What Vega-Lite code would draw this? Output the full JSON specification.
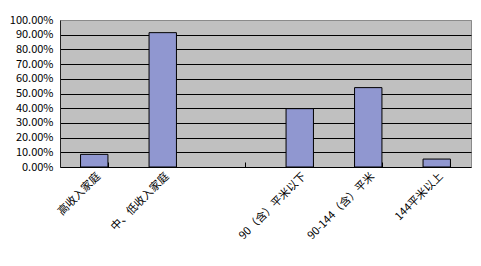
{
  "$schema": "https://vega.github.io/schema/vega-lite/v6.json",
  "autosize": "none",
  "width": 411,
  "height": 147,
  "padding": {"left": 60, "top": 20, "right": 10, "bottom": 99},
  "background": "white",
  "config": {
    "font": "Noto Sans CJK SC",
    "view": {"fill": "#c0c0c0", "stroke": "#8a8a8a", "strokeWidth": 1}
  },
  "data": {
    "values": [
      {"cat": "高收入家庭", "value": 0.086},
      {"cat": "中、低收入家庭", "value": 0.914},
      {"cat": " ", "value": null},
      {"cat": "90（含）平米以下", "value": 0.397},
      {"cat": "90-144（含）平米", "value": 0.54},
      {"cat": "144平米以上", "value": 0.054}
    ]
  },
  "mark": {"type": "bar", "fill": "#9097d0", "stroke": "#000000", "strokeWidth": 1},
  "encoding": {
    "x": {
      "field": "cat",
      "type": "nominal",
      "sort": null,
      "scale": {
        "domain": ["高收入家庭", "中、低收入家庭", " ", "90（含）平米以下", "90-144（含）平米", "144平米以上"],
        "paddingInner": 0.6,
        "paddingOuter": 0.3
      },
      "axis": {
        "title": null,
        "labelAngle": -45,
        "labelFontSize": 11,
        "labelColor": "#000000",
        "labelPadding": 8,
        "tickBand": "extent",
        "tickColor": "#000000",
        "tickSize": -5,
        "domainColor": "#000000",
        "grid": false
      }
    },
    "y": {
      "field": "value",
      "type": "quantitative",
      "scale": {"domain": [0, 1], "nice": false},
      "axis": {
        "title": null,
        "format": ".2%",
        "values": [0, 0.1, 0.2, 0.3, 0.4, 0.5, 0.6, 0.7, 0.8, 0.9, 1],
        "labelFontSize": 11,
        "labelColor": "#000000",
        "labelPadding": 7,
        "tickSize": 0,
        "domainColor": "#222222",
        "grid": true,
        "gridColor": {"condition": {"test": "datum.value == 1 || datum.value == 0", "value": "#8a8a8a"}, "value": "#000000"},
        "gridOpacity": 1,
        "gridWidth": 1
      }
    }
  }
}
